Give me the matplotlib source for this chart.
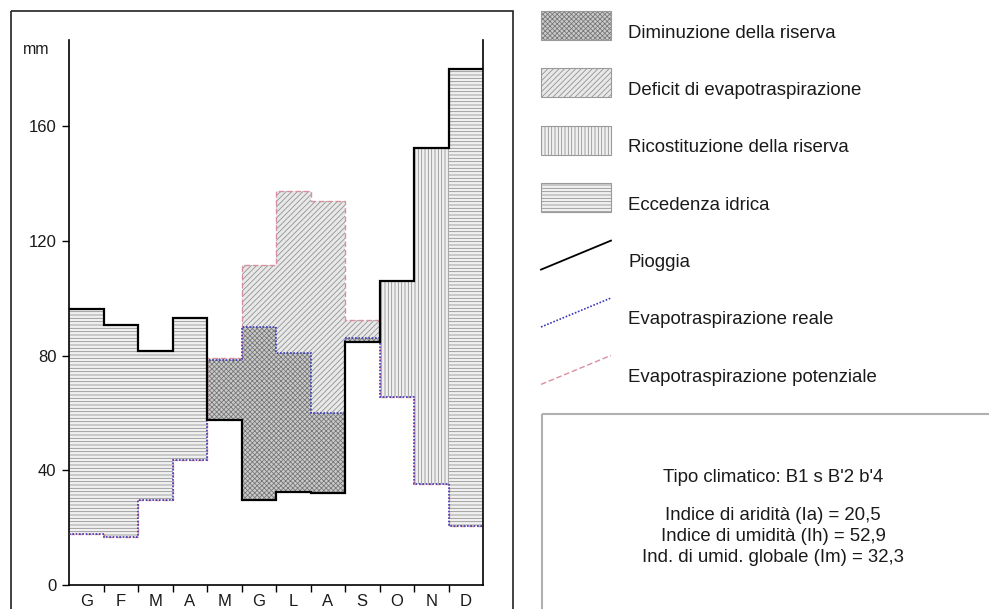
import matplotlib
matplotlib.use("Agg")
import matplotlib.pyplot as plt
from matplotlib.patches import Rectangle
from matplotlib.lines import Line2D
import numpy as np

plt.rcParams['font.family'] = ['Liberation Sans', 'DejaVu Sans']
plt.rcParams['hatch.linewidth'] = 0.55

# Monthly water balance (mm)
months = ['G', 'F', 'M', 'A', 'M', 'G', 'L', 'A', 'S', 'O', 'N', 'D']
pioggia = [96.2, 90.7, 81.7, 93.2, 57.6, 29.6, 32.3, 31.9, 84.7, 105.9, 152.3, 180.0]
evap_reale = [17.7, 16.8, 29.5, 43.7, 78.6, 89.8, 81.0, 59.9, 86.0, 65.7, 35.3, 20.4]
evap_potenziale = [17.7, 16.8, 29.5, 43.7, 79.2, 111.7, 137.4, 133.7, 92.4, 65.7, 35.3, 20.4]
# E = eccedenza, U = utilizzo riserva, R = ricostituzione
regime = ['E', 'E', 'E', 'E', 'U', 'U', 'U', 'U', 'U', 'R', 'R', 'E']

y_ticks = [0, 40, 80, 120, 160]

legend_labels = ['Diminuzione della riserva', 'Deficit di evapotraspirazione',
                 'Ricostituzione della riserva', 'Eccedenza idrica',
                 'Pioggia', 'Evapotraspirazione reale', 'Evapotraspirazione potenziale']

tipo_climatico = "B1 s B'2 b'4"
indice_aridita = "20,5"
indice_umidita = "52,9"
indice_globale = "32,3"

TXT = '#1a1a1a'
styles = {
    'dim': dict(facecolor='#cacaca', edgecolor='#747474', hatch='xxxxxxx'),
    'def': dict(facecolor='#e8e8e8', edgecolor='#8c8c8c', hatch='//////'),
    'ric': dict(facecolor='#f0f0f0', edgecolor='#8c8c8c', hatch='|||||'),
    'ecc': dict(facecolor='#f0f0f0', edgecolor='#8c8c8c', hatch='-----'),
}
line_styles = {
    'rain': dict(color='black', lw=1.6, ls='-'),
    'ae': dict(color='#3a3ab8', lw=1.2, ls=(0, (1, 1))),
    'pe': dict(color='#d890a0', lw=1.0, ls=(0, (4, 2))),
}

W, H = 989, 609
fig = plt.figure(figsize=(W / 100, H / 100), dpi=100)

ax = fig.add_axes([69 / W, 1 - 585 / H, (483 - 69) / W, (585 - 40) / H])
x = np.arange(len(months)) + 0.5
edges = np.arange(len(months) + 1)

for i in range(len(months)):
    p, ae, pe = pioggia[i], evap_reale[i], evap_potenziale[i]
    if regime[i] == 'U':
        ax.bar(x[i], ae - p, bottom=p, width=1.0, linewidth=0, zorder=1, **styles['dim'])
        ax.bar(x[i], pe - ae, bottom=ae, width=1.0, linewidth=0, zorder=1, **styles['def'])
    else:
        key = 'ric' if regime[i] == 'R' else 'ecc'
        ax.bar(x[i], p - ae, bottom=ae, width=1.0, linewidth=0, zorder=1, **styles[key])

ax.stairs(evap_potenziale, edges, baseline=None, zorder=2, **line_styles['pe'])
ax.stairs(evap_reale, edges, baseline=None, zorder=3, **line_styles['ae'])
ax.stairs(pioggia, edges, baseline=None, zorder=4, **line_styles['rain'])

ax.set_xlim(0, len(months))
ax.set_ylim(0, 190)
ax.spines['top'].set_visible(False)
for s in ('left', 'right', 'bottom'):
    ax.spines[s].set_linewidth(1.2)
ax.set_yticks(y_ticks)
ax.tick_params(axis='y', direction='out', length=5, width=1.0, pad=4,
               labelsize=12, labelcolor=TXT)
ax.set_xticks(edges[1:-1])
ax.set_xticklabels([])
ax.tick_params(axis='x', which='major', direction='out', length=5, width=1.0)
ax.set_xticks(x, minor=True)
ax.set_xticklabels(months, minor=True)
ax.tick_params(axis='x', which='minor', length=0, pad=6.5, labelsize=12, labelcolor=TXT)

fig.text(23 / W, 1 - 50 / H, 'mm', fontsize=11.5, color=TXT, va='center', ha='left')

# Overlay in pixel coordinates for frames, legend and index box
ov = fig.add_axes([0, 0, 1, 1], zorder=-1)
ov.set_xlim(0, W)
ov.set_ylim(H, 0)
ov.axis('off')
ov.patch.set_alpha(0)

ov.add_patch(Rectangle((10.5, 10.5), 502, 640, fill=False, edgecolor='#222222', lw=1.2))

ov2 = fig.add_axes([0, 0, 1, 1], zorder=5)
ov2.set_xlim(0, W)
ov2.set_ylim(H, 0)
ov2.axis('off')
ov2.patch.set_alpha(0)

patch_keys = ['dim', 'def', 'ric', 'ecc']
line_keys = ['rain', 'ae', 'pe']
step = 57.4
for i, label in enumerate(legend_labels):
    cy = 25.5 + step * i
    if i < 4:
        st = styles[patch_keys[i]]
        ov2.add_patch(Rectangle((541, cy - 14.5), 70, 29, facecolor=st['facecolor'],
                                edgecolor=st['edgecolor'], hatch=st['hatch'], lw=0))
        ov2.add_patch(Rectangle((541, cy - 14.5), 70, 29, fill=False,
                                edgecolor='#9a9a9a', lw=0.8))
    else:
        ls = dict(line_styles[line_keys[i - 4]])
        if line_keys[i - 4] == 'rain':
            ls['lw'] = 1.3
        ov2.add_line(Line2D([541, 611], [cy + 14.5, cy - 14.5], **ls))
    ov2.text(628, cy + 7.5, label, fontsize=13.4, color=TXT, va='center', ha='left')

ov2.add_patch(Rectangle((541.5, 413.5), 600, 300, fill=False, edgecolor='#b0b0b0', lw=1.5))
cx = 773
ov2.text(cx, 477, f"Tipo climatico: {tipo_climatico}", fontsize=13.4, color=TXT,
         ha='center', va='center')
ov2.text(cx, 516, f"Indice di aridità (Ia) = {indice_aridita}", fontsize=13.4, color=TXT,
         ha='center', va='center')
ov2.text(cx, 536.5, f"Indice di umidità (Ih) = {indice_umidita}", fontsize=13.4, color=TXT,
         ha='center', va='center')
ov2.text(cx, 557, f"Ind. di umid. globale (Im) = {indice_globale}", fontsize=13.4, color=TXT,
         ha='center', va='center')

fig.savefig('out.png', dpi=100, facecolor='white')
